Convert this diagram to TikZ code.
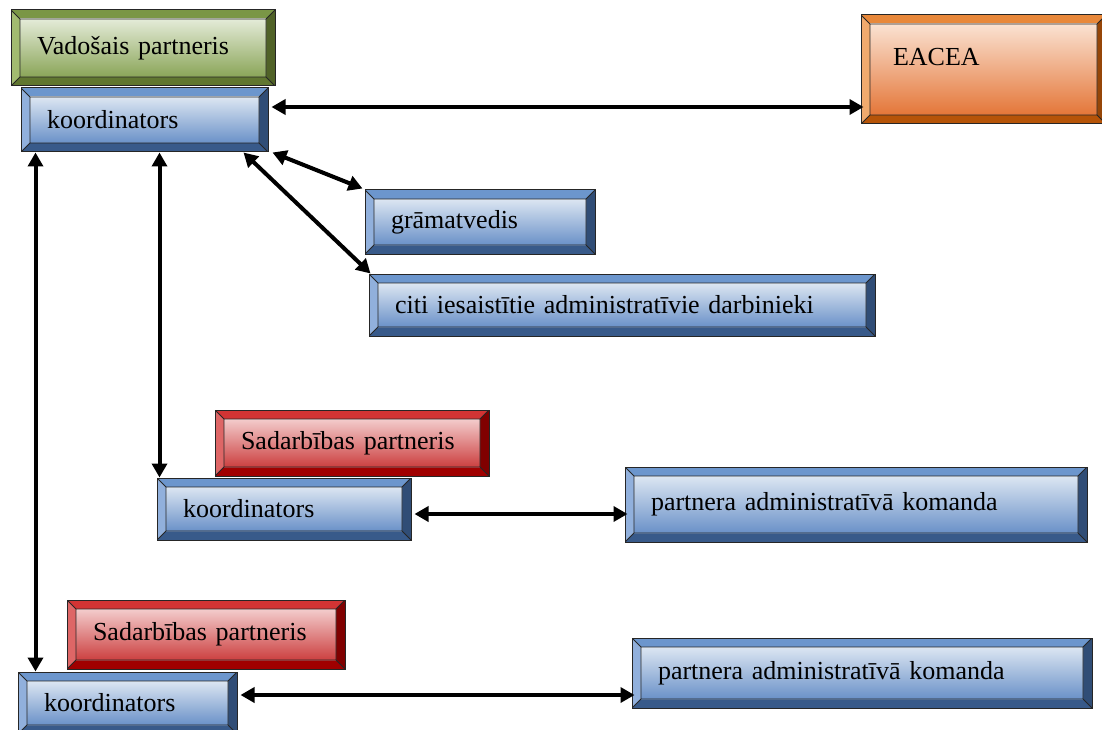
\documentclass[tikz,border=0pt]{standalone}
\usepackage{fontspec}
\setmainfont{Liberation Serif}
\usetikzlibrary{arrows.meta}

% bevel colours: T top, L left, R right, B bottom, I/J inner gradient
\definecolor{blueT}{RGB}{108,150,205}
\definecolor{blueL}{RGB}{145,176,220}
\definecolor{blueR}{RGB}{48,77,118}
\definecolor{blueB}{RGB}{56,90,138}
\definecolor{blueI}{RGB}{220,230,242}
\definecolor{blueJ}{RGB}{106,145,200}
\definecolor{greenT}{RGB}{122,150,70}
\definecolor{greenL}{RGB}{162,187,112}
\definecolor{greenR}{RGB}{80,98,40}
\definecolor{greenB}{RGB}{96,118,48}
\definecolor{greenI}{RGB}{228,235,216}
\definecolor{greenJ}{RGB}{138,165,88}
\definecolor{orangeT}{RGB}{232,136,58}
\definecolor{orangeL}{RGB}{240,170,110}
\definecolor{orangeR}{RGB}{150,70,8}
\definecolor{orangeB}{RGB}{182,84,8}
\definecolor{orangeI}{RGB}{250,226,210}
\definecolor{orangeJ}{RGB}{228,118,56}
\definecolor{redT}{RGB}{210,52,52}
\definecolor{redL}{RGB}{222,102,102}
\definecolor{redR}{RGB}{128,0,0}
\definecolor{redB}{RGB}{160,0,0}
\definecolor{redI}{RGB}{243,204,204}
\definecolor{redJ}{RGB}{204,64,64}

\newcommand\bev{9pt}

\tikzset{
  bevel/.style={draw=black!85, line width=1pt, inner xsep=26pt, inner ysep=0pt,
    align=left, font=\fontsize{26}{30}\selectfont,
    path picture={
      \coordinate (nw) at (path picture bounding box.north west);
      \coordinate (ne) at (path picture bounding box.north east);
      \coordinate (sw) at (path picture bounding box.south west);
      \coordinate (se) at (path picture bounding box.south east);
      \coordinate (inw) at ([shift={(\bev,-\bev)}]nw);
      \coordinate (ine) at ([shift={(-\bev,-\bev)}]ne);
      \coordinate (isw) at ([shift={(\bev,\bev)}]sw);
      \coordinate (ise) at ([shift={(-\bev,\bev)}]se);
      \fill[#1T] (nw) -- (ne) -- (ine) -- (inw) -- cycle;
      \fill[#1L] (nw) -- (inw) -- (isw) -- (sw) -- cycle;
      \fill[#1R] (ne) -- (se) -- (ise) -- (ine) -- cycle;
      \fill[#1B] (sw) -- (isw) -- (ise) -- (se) -- cycle;
      \shade[top color=#1I, bottom color=#1J] (inw) rectangle (ise);
      \draw[black!85, line width=0.9pt] (inw) rectangle (ise)
        (nw) -- (inw) (ne) -- (ine) (sw) -- (isw) (se) -- (ise);
    }},
  link/.style={line width=4pt, >={Triangle[length=14pt,width=15pt]}, <->}
}

\begin{document}
\begin{tikzpicture}[x=1pt, y=-1pt]
  \useasboundingbox (0,0) rectangle (1102,730);

  % nodes
  \node[bevel=green,  text width=212pt, minimum height=76pt]  (lead)   at (143,48)    {Vadošais partneris};
  \node[bevel=blue,   text width=195pt, minimum height=64pt]  (coord)  at (144.5,120) {koordinators};
  \node[bevel=orange, text width=181pt, minimum height=109pt, inner xsep=32pt, text depth=26pt] (eacea) at (983.5,69.5) {EACEA};
  \node[bevel=blue,   text width=178pt, minimum height=64pt]  (acct)   at (480,222)   {grāmatvedis};
  \node[bevel=blue,   text width=454pt, minimum height=62pt]  (staff)  at (622,305)   {citi iesaistītie administratīvie darbinieki};
  \node[bevel=red,    text width=222pt, minimum height=66pt]  (part1)  at (352,443)   {Sadarbības partneris};
  \node[bevel=blue,   text width=202pt, minimum height=62pt]  (coord1) at (284,509)   {koordinators};
  \node[bevel=blue,   text width=410pt, minimum height=75pt]  (team1)  at (856,504.5) {partnera administratīvā komanda};
  \node[bevel=red,    text width=226pt, minimum height=69pt]  (part2)  at (206,634.5) {Sadarbības partneris};
  \node[bevel=blue,   text width=167pt, minimum height=62pt]  (coord2) at (127.5,703) {koordinators};
  \node[bevel=blue,   text width=408pt, minimum height=70pt]  (team2)  at (862,673)   {partnera administratīvā komanda};

  % connectors
  \draw[link] ([shift={(3pt,13pt)}]coord.east) -- ([shift={(3pt,13pt)}]coord.east -| eacea.west);
  \draw[link] ([xshift=4pt]coord.south east) -- ([shift={(-2pt,1pt)}]acct.north west);
  \draw[link] ([xshift=-25pt]coord.south east) -- ([xshift=2pt]staff.north west);
  \draw[link] ([xshift=3pt]coord1.north west) -- ([xshift=3pt]coord1.north west |- coord.south);
  \draw[link] ([xshift=15pt]coord.south west) -- ([xshift=15pt]coord.south west |- coord2.north);
  \draw[link] ([shift={(3pt,-5pt)}]coord1.east) -- ([shift={(3pt,-5pt)}]coord1.east -| team1.west);
  \draw[link] ([shift={(3pt,8pt)}]coord2.east) -- ([shift={(3pt,8pt)}]coord2.east -| team2.west);
\end{tikzpicture}
\end{document}
